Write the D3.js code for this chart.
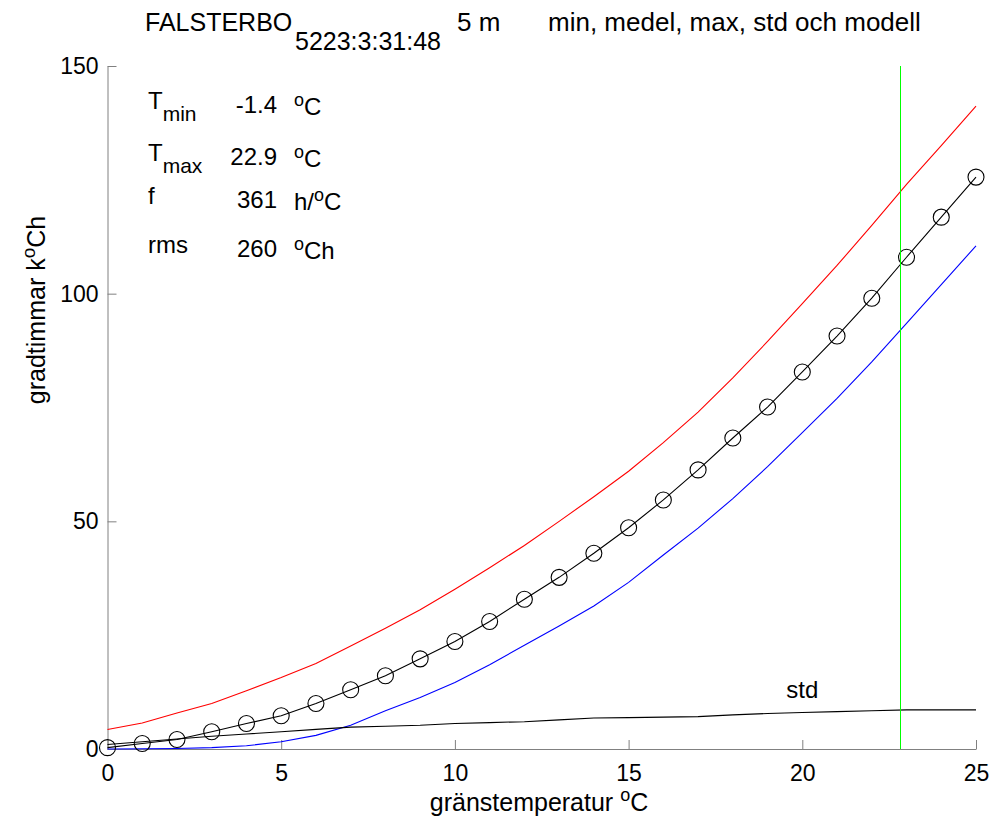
<!DOCTYPE html>
<html>
<head>
<meta charset="utf-8">
<script src="https://cdn.jsdelivr.net/npm/d3@7"></script>
<style>
  body { margin: 0; background: #fff; }
  svg { font-family: "Liberation Sans", Arial, sans-serif; }
  .axis path, .axis line { stroke: #808080; }
  .axis text { fill: #000; font-size: 23px; }
</style>
</head>
<body>
<div id="chart"></div>
<script>
const width = 994, height = 829

// gränstemperatur (°C)
const temps = [0,1,2,3,4,5,6,7,8,9,10,11,12,13,14,15,16,17,18,19,20,21,22,23,24,25]
// gradtimmar kºCh
const maxVals  = [4.3,5.7,7.9,10.0,12.8,15.7,18.8,22.6,26.5,30.6,35.1,39.8,44.7,50.0,55.4,61.0,67.3,74.0,81.5,89.5,97.8,106.2,115.0,124.0,132.5,141.2]
const minVals  = [0,0.05,0.1,0.3,0.7,1.6,3.0,5.2,8.4,11.3,14.6,18.5,22.8,27.0,31.4,36.6,42.6,48.5,55.0,62.0,69.5,77.0,85.0,93.5,102.0,110.5]
const meanVals = [0.3,1.2,2.1,3.8,5.6,7.3,10.0,13.0,16.1,19.8,23.6,28.0,32.9,37.7,43.0,48.6,54.7,61.3,68.3,75.1,82.8,90.7,99.0,108.0,116.8,125.6]
const stdVals  = [1.0,1.6,2.2,2.8,3.3,3.8,4.3,4.8,5.0,5.2,5.6,5.8,6.0,6.4,6.8,6.9,7.0,7.1,7.5,7.8,8.0,8.2,8.4,8.6,8.6,8.6]
const tmaxLine = 22.8

const xTicks = [0,5,10,15,20,25]
const yTicks = [0,50,100,150]

const info = [
  { lab: "T", sub: "min", val: "-1.4", unit: [["o", true], ["C", false]] },
  { lab: "T", sub: "max", val: "22.9", unit: [["o", true], ["C", false]] },
  { lab: "f", sub: "", val: "361", unit: [["h/", false], ["o", true], ["C", false]] },
  { lab: "rms", sub: "", val: "260", unit: [["o", true], ["Ch", false]] }
]

const svg = d3.select("#chart").append("svg").attr("width", width).attr("height", height)

const x = d3.scaleLinear().domain([0, 25]).range([107.5, 976])
const y = d3.scaleLinear().domain([0, 150]).range([749, 66])

svg.append("g").attr("class", "axis").attr("transform", `translate(0,${y(0)})`)
  .call(d3.axisBottom(x).tickValues(xTicks).tickSizeInner(-9).tickSizeOuter(0).tickPadding(16))
svg.append("g").attr("class", "axis").attr("transform", `translate(${x(0)},0)`)
  .call(d3.axisLeft(y).tickValues(yTicks).tickSizeInner(-9).tickSizeOuter(0).tickPadding(9))

const pts = arr => temps.map((t, i) => [t, arr[i]])
const line = d3.line().x(d => x(d[0])).y(d => y(d[1]))

const series = [
  { v: maxVals, c: "#ff0000" },
  { v: minVals, c: "#0000ff" },
  { v: stdVals, c: "#000000" },
  { v: meanVals, c: "#000000" }
]
for (const s of series) {
  svg.append("path").attr("fill", "none").attr("stroke", s.c).attr("stroke-width", 1.1).attr("d", line(pts(s.v)))
}

svg.selectAll("circle.mean").data(pts(meanVals)).join("circle")
  .attr("class", "mean")
  .attr("cx", d => x(d[0])).attr("cy", d => y(d[1])).attr("r", 8)
  .attr("fill", "none").attr("stroke", "#000").attr("stroke-width", 1.1)

svg.append("line")
  .attr("x1", Math.round(x(tmaxLine)) + 0.5).attr("x2", Math.round(x(tmaxLine)) + 0.5)
  .attr("y1", y(150)).attr("y2", y(0))
  .attr("stroke", "#00ff00").attr("stroke-width", 1).attr("shape-rendering", "crispEdges")

svg.append("text").attr("x", x(20)).attr("y", y(11.2)).attr("text-anchor", "middle")
  .style("font-size", "24px").text("std")

// title
const title = svg.append("g").style("font-size", "26px")
title.append("text").attr("x", 145).attr("y", 31).style("font-size", "25px").text("FALSTERBO")
title.append("text").attr("x", 295).attr("y", 50).style("font-size", "25px").text("5223:3:31:48")
title.append("text").attr("x", 457).attr("y", 31).text("5 m")
title.append("text").attr("x", 548).attr("y", 31).text("min, medel, max, std och modell")

// axis labels
const xl = svg.append("text").attr("x", 539).attr("y", 811).attr("text-anchor", "middle").style("font-size", "25px")
xl.append("tspan").text("gränstemperatur  ")
xl.append("tspan").attr("dy", -10).style("font-size", "18px").text("o")
xl.append("tspan").attr("dy", 10).text("C")

const yl = svg.append("text").attr("transform", "translate(45,310) rotate(-90)").attr("text-anchor", "middle").style("font-size", "25px")
yl.append("tspan").text("gradtimmar  k")
yl.append("tspan").attr("dy", -10).style("font-size", "19px").text("o")
yl.append("tspan").attr("dy", 10).text("Ch")

// info block
const rowY = [113, 165, 208, 257]
info.forEach((r, i) => {
  const t = svg.append("text").attr("x", 148).attr("y", rowY[i] - 4).style("font-size", "24px")
  t.append("tspan").text(r.lab)
  if (r.sub) t.append("tspan").attr("dy", 12).style("font-size", "21px").text(r.sub)
  svg.append("text").attr("x", 277).attr("y", rowY[i]).attr("text-anchor", "end").style("font-size", "24px").text(r.val)
  const u = svg.append("text").attr("x", 294).attr("y", rowY[i] + 2).style("font-size", "24px")
  let up = false
  for (const [s, sup] of r.unit) {
    const ts = u.append("tspan").text(s)
    if (sup && !up) { ts.attr("dy", -9).style("font-size", "18px"); up = true }
    else if (!sup && up) { ts.attr("dy", 9); up = false }
  }
})
</script>
</body>
</html>
